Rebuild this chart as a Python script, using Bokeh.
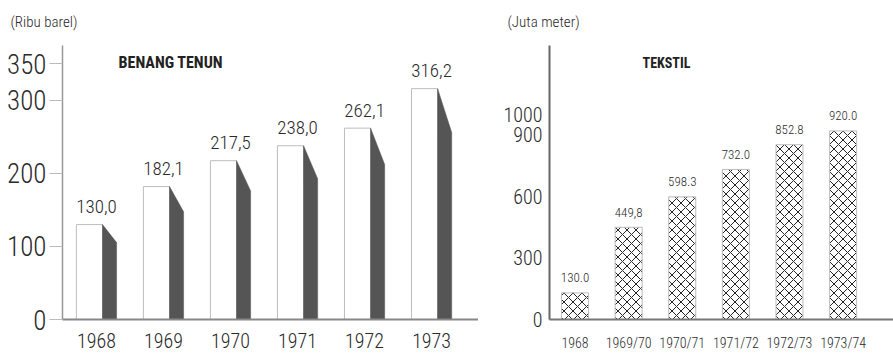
from bokeh.plotting import figure
from bokeh.layouts import row
from bokeh.models import FixedTicker, Range1d
from bokeh.core.properties import value
from bokeh.embed import file_html
from bokeh.resources import INLINE

# ---------------- data ----------------
benang_years = ["1968", "1969", "1970", "1971", "1972", "1973"]
benang_values = [130.0, 182.1, 217.5, 238.0, 262.1, 316.2]
benang_labels = ["130,0", "182,1", "217,5", "238,0", "262,1", "316,2"]
benang_ticks = [0, 100, 200, 300, 350]

tekstil_years = ["1968", "1969/70", "1970/71", "1971/72", "1972/73", "1973/74"]
tekstil_values = [130.0, 449.8, 598.3, 732.0, 852.8, 920.0]
tekstil_labels = ["130.0", "449,8", "598.3", "732.0", "852.8", "920.0"]
tekstil_ticks = [0, 300, 600, 900, 1000]

LIGHT = "Roboto Condensed Light, Roboto Condensed, DejaVu Sans Condensed, sans-serif"
BOLD = "Roboto Condensed, DejaVu Sans Condensed, sans-serif"
TXT = "#2a2a2a"


def style_common(p):
    p.grid.visible = False
    p.outline_line_color = None
    p.background_fill_color = None
    p.border_fill_color = None
    p.title.text_font = LIGHT
    p.title.text_font_style = "normal"
    p.title.text_font_size = "15px"
    p.title.text_color = TXT
    p.title.align = "left"
    p.title.standoff = 16


# ---------------- left chart: BENANG TENUN ----------------
idx1 = list(range(len(benang_years)))
p1 = figure(width=478, height=359, output_backend="svg", toolbar_location=None,
            title="(Ribu barel)",
            x_range=Range1d(-0.507, 5.70), y_range=Range1d(0, 384.9),
            min_border_left=62, min_border_right=0, min_border_top=38,
            min_border_bottom=40)
style_common(p1)
p1.title.offset = -52

WHITE_L, SPLIT, DARK_R, SLANT = 0.30, 0.09, 0.30, 0.19
p1.quad(left=[i - WHITE_L for i in idx1], right=[i + SPLIT for i in idx1],
        bottom=0, top=benang_values, fill_color="white",
        line_color="#bdbdbd", line_width=1)
p1.patches(xs=[[i + SPLIT, i + DARK_R, i + DARK_R, i + SPLIT] for i in idx1],
           ys=[[v, v * (1 - SLANT), 0, 0] for v in benang_values],
           fill_color="#555555", line_color="#555555", line_width=0.5)
p1.text(x=idx1, y=benang_values, text=benang_labels, y_offset=-18,
        text_align="center", text_baseline="alphabetic",
        text_font=value(LIGHT), text_font_size="19px", text_color=TXT)
p1.text(x=[0.33], y=[352], text=["BENANG TENUN"], text_align="left",
        text_baseline="alphabetic", text_font=value(BOLD),
        text_font_style="bold", text_font_size="16px", text_color="#222222")

ya = p1.yaxis[0]
ya.ticker = FixedTicker(ticks=benang_ticks)
ya.bounds = (0, 375)
ya.major_tick_out = 13
ya.major_tick_in = 0
ya.minor_tick_line_color = None
ya.axis_line_color = "#999999"
ya.axis_line_width = 1.5
ya.major_tick_line_color = "#bbbbbb"
ya.major_label_text_font = LIGHT
ya.major_label_text_font_size = "27px"
ya.major_label_text_color = TXT
ya.major_label_standoff = 3

xa = p1.xaxis[0]
xa.ticker = FixedTicker(ticks=idx1)
xa.major_label_overrides = {i: y for i, y in zip(idx1, benang_years)}
xa.major_tick_out = 0
xa.major_tick_in = 0
xa.minor_tick_line_color = None
xa.axis_line_color = "#888888"
xa.axis_line_width = 2
xa.major_label_text_font = LIGHT
xa.major_label_text_font_size = "20px"
xa.major_label_text_color = TXT
xa.major_label_standoff = 13

# ---------------- right chart: TEKSTIL ----------------
idx2 = list(range(len(tekstil_years)))
p2 = figure(width=415, height=359, output_backend="svg", toolbar_location=None,
            title="(Juta meter)",
            x_range=Range1d(-0.476, 5.94), y_range=Range1d(0, 1370.7),
            min_border_left=71, min_border_right=0, min_border_top=38,
            min_border_bottom=40)
style_common(p2)
p2.title.offset = -42

p2.vbar(x=idx2, width=0.504, bottom=0, top=tekstil_values, fill_color="white",
        line_color="#bdbdbd", line_width=1, hatch_pattern="x",
        hatch_color="#222222", hatch_scale=9, hatch_weight=1)
p2.text(x=idx2, y=tekstil_values, text=tekstil_labels, y_offset=-15,
        text_align="center", text_baseline="alphabetic",
        text_font=value(LIGHT), text_font_size="13px", text_color=TXT)
p2.text(x=[1.26], y=[1249], text=["TEKSTIL"], text_align="left",
        text_baseline="alphabetic", text_font=value(BOLD),
        text_font_style="bold", text_font_size="14px", text_color="#222222")

ya2 = p2.yaxis[0]
ya2.ticker = FixedTicker(ticks=tekstil_ticks)
ya2.bounds = (0, 1336)
ya2.major_tick_out = 0
ya2.major_tick_in = 0
ya2.minor_tick_line_color = None
ya2.axis_line_color = "#666666"
ya2.axis_line_width = 2
ya2.major_label_text_font = LIGHT
ya2.major_label_text_font_size = "20px"
ya2.major_label_text_color = TXT
ya2.major_label_standoff = 7

xa2 = p2.xaxis[0]
xa2.ticker = FixedTicker(ticks=idx2)
xa2.major_label_overrides = {i: y for i, y in zip(idx2, tekstil_years)}
xa2.major_tick_out = 0
xa2.major_tick_in = 0
xa2.minor_tick_line_color = None
xa2.axis_line_color = "#777777"
xa2.axis_line_width = 2
xa2.major_label_text_font = LIGHT
xa2.major_label_text_font_size = "14px"
xa2.major_label_text_color = TXT
xa2.major_label_standoff = 15

layout = row(p1, p2, spacing=0)
open("out.html", "w").write(file_html(layout, INLINE))
